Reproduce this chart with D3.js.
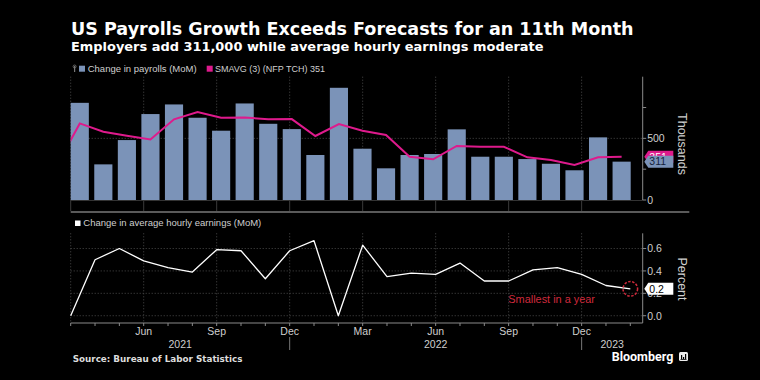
<!DOCTYPE html>
<html><head><meta charset="utf-8">
<script src="https://cdn.jsdelivr.net/npm/d3@7/dist/d3.min.js"></script>
<style>html,body{margin:0;padding:0;background:#000;}svg{display:block;}</style>
</head><body>
<svg id="c" width="760" height="380"></svg>
<script>
// ---- data ----
const months = ["2021-03","2021-04","2021-05","2021-06","2021-07","2021-08","2021-09","2021-10","2021-11","2021-12",
  "2022-01","2022-02","2022-03","2022-04","2022-05","2022-06","2022-07","2022-08","2022-09","2022-10","2022-11","2022-12",
  "2023-01","2023-02"];
const payrolls = [788,289,486,697,775,667,562,783,618,575,365,910,416,257,365,373,573,351,351,332,294,241,508,311];
const smaMonths = ["2021-02", ...months];
const smavg = [270,621,554,521,491,654,713,667,670,654,656,519,616,562,527,351,330,438,432,432,346,324,284,346,351];
const earnings = [0.0,0.50,0.60,0.49,0.43,0.39,0.59,0.58,0.33,0.58,0.67,0.0,0.63,0.35,0.38,0.37,0.47,0.31,0.31,0.41,0.43,0.37,0.27,0.24];
const topTicks = [0,250,500,750];
const topTickLabels = [0,500];
const botTicks = [0,0.2,0.4,0.6];
const years = ["2021","2022","2023"];
const title = "US Payrolls Growth Exceeds Forecasts for an 11th Month";
const subtitle = "Employers add 311,000 while average hourly earnings moderate";
const legendTop = ["Change in payrolls (MoM)","SMAVG (3) (NFP TCH) 351"];
const legendBot = "Change in average hourly earnings (MoM)";
const lastPayroll = 311, lastSma = 351, lastEarn = 0.2;

// ---- setup ----
const svg = d3.select("#c");
svg.append("rect").attr("width",760).attr("height",380).attr("fill","#000");
const parse = d3.timeParse("%Y-%m");
const fmtMon = d3.timeFormat("%b");
const BAR = "#7b93b8", PINK = "#de1a8c", RED = "#cf2a3c", GRID = "#4a4a4a", AX = "#8a8a8a", TXT = "#cfcfcf";
const FONT = "'Liberation Sans', Arial, sans-serif";
const HFONT = "'DejaVu Sans', 'Liberation Sans', sans-serif";

function fit(sel, target){
  const w = sel.node().getComputedTextLength();
  const fs = parseFloat(sel.attr("font-size"));
  if (w > 0) sel.attr("font-size", (fs*target/w).toFixed(2));
  return sel;
}

const L = 70.7, R = 642.7;
// scales
const pad = 0.23;
const stepB = (630.7 - L) / (months.length - pad);
const xBand = d3.scaleBand().domain(smaMonths).range([L - stepB, 630.7]).paddingInner(pad).paddingOuter(0);
const xPt = d3.scalePoint().domain(months).range([L, 630.3]);
const yTop = d3.scaleLinear().domain([0,1000]).range([200,76.7]);
const yBot = d3.scaleLinear().domain([-0.065,0.736]).range([323,233.3]);
const quarters = months.filter(m => [3,6,9,12].includes(+m.slice(5)));

// ---- titles ----
fit(svg.append("text").attr("x",71).attr("y",35.3).attr("fill","#fff").attr("font-family",HFONT)
  .attr("font-weight","bold").attr("font-size",17).text(title), 563);
fit(svg.append("text").attr("x",71).attr("y",50.7).attr("fill","#fff").attr("font-family",HFONT)
  .attr("font-weight","bold").attr("font-size",12).text(subtitle), 473);

// legend top
svg.append("rect").attr("x",74).attr("y",66).attr("width",1.2).attr("height",6).attr("fill","#777");
svg.append("circle").attr("cx",74.6).attr("cy",66.5).attr("r",1.5).attr("fill","none").attr("stroke","#777").attr("stroke-width",0.8);
svg.append("rect").attr("x",79).attr("y",65.7).attr("width",6).attr("height",6).attr("fill",BAR);
fit(svg.append("text").attr("x",87.7).attr("y",71.7).attr("fill",TXT).attr("font-family",FONT).attr("font-size",9.5).text(legendTop[0]),109);
svg.append("rect").attr("x",206.7).attr("y",65.7).attr("width",6).attr("height",6).attr("fill",PINK);
fit(svg.append("text").attr("x",215).attr("y",71.7).attr("fill",TXT).attr("font-family",FONT).attr("font-size",9.5).text(legendTop[1]),110);

// ---- top panel ----
const gTop = svg.append("g");
gTop.append("line").attr("x1",L).attr("x2",R).attr("y1",yTop(500)).attr("y2",yTop(500))
  .attr("stroke",GRID).attr("stroke-dasharray","1,2");
gTop.selectAll(".vg").data(quarters).join("line")
  .attr("x1",d=>xPt(d)).attr("x2",d=>xPt(d)).attr("y1",76.7).attr("y2",200)
  .attr("stroke",GRID).attr("stroke-dasharray","1,2");
gTop.selectAll(".vt").data(quarters).join("line")
  .attr("x1",d=>xPt(d)).attr("x2",d=>xPt(d)).attr("y1",200).attr("y2",211)
  .attr("stroke","#3a3a3a");
gTop.append("line").attr("x1",L).attr("x2",R).attr("y1",200.5).attr("y2",200.5).attr("stroke","#333");
gTop.selectAll(".bar").data(months).join("rect")
  .attr("x",d=>xBand(d)).attr("width",xBand.bandwidth())
  .attr("y",(d,i)=>yTop(payrolls[i])).attr("height",(d,i)=>yTop(0)-yTop(payrolls[i]))
  .attr("fill",BAR);
svg.append("clipPath").attr("id","clipTop").append("rect").attr("x",L).attr("y",60).attr("width",R-L).attr("height",145);
gTop.append("path").attr("clip-path","url(#clipTop)")
  .attr("d", d3.line().x((d,i)=>xBand(smaMonths[i])+xBand.bandwidth()/2).y(d=>yTop(d))(smavg))
  .attr("fill","none").attr("stroke",PINK).attr("stroke-width",2);
gTop.append("line").attr("x1",R).attr("x2",R).attr("y1",76.7).attr("y2",200).attr("stroke",AX);
gTop.selectAll(".tt").data(topTicks).join("line")
  .attr("x1",R).attr("x2",R+3.5).attr("y1",d=>yTop(d)).attr("y2",d=>yTop(d)).attr("stroke",AX);
gTop.selectAll(".tl").data(topTickLabels).join("text")
  .attr("x",R+4.5).attr("y",d=>yTop(d)).attr("dy","0.36em").attr("fill",TXT)
  .attr("font-family",FONT).attr("font-size",10.5).text(d=>d);
function tag(g, yv, color, textColor, label){
  const yy = yv, x0 = R+1.6, x1 = 673.3, h = 12;
  g.append("path").attr("d",`M${x0},${yy} L${x0+4},${yy-h/2} L${x1},${yy-h/2} L${x1},${yy+h/2} L${x0+4},${yy+h/2} Z`).attr("fill",color);
  g.append("text").attr("x",x0+5).attr("y",yy).attr("dy","0.36em").attr("fill",textColor)
    .attr("font-family",FONT).attr("font-size",10.5).text(label);
}
tag(gTop, yTop(lastSma), PINK, "#fff", lastSma);
tag(gTop, yTop(lastPayroll), BAR, "#14223a", lastPayroll);
gTop.append("text").attr("transform",`translate(678,144) rotate(90)`).attr("text-anchor","middle")
  .attr("fill",TXT).attr("font-family",FONT).attr("font-size",12.5).text("Thousands");

svg.append("line").attr("x1",L).attr("x2",689.3).attr("y1",212).attr("y2",212).attr("stroke","#5a5a5a").attr("stroke-width",2);

// ---- bottom panel ----
const gBot = svg.append("g");
gBot.append("rect").attr("x",75).attr("y",220.5).attr("width",5.5).attr("height",5.5).attr("fill","#fff");
fit(gBot.append("text").attr("x",83.3).attr("y",226).attr("fill",TXT).attr("font-family",FONT).attr("font-size",9.5).text(legendBot),178);

gBot.selectAll(".hg").data(botTicks).join("line")
  .attr("x1",L).attr("x2",R).attr("y1",d=>yBot(d)).attr("y2",d=>yBot(d))
  .attr("stroke",GRID).attr("stroke-dasharray","1,2");
gBot.selectAll(".vg").data(quarters).join("line")
  .attr("x1",d=>xPt(d)).attr("x2",d=>xPt(d)).attr("y1",233.3).attr("y2",323)
  .attr("stroke",GRID).attr("stroke-dasharray","1,2");
gBot.append("line").attr("x1",L).attr("x2",R).attr("y1",323).attr("y2",323).attr("stroke",AX);
gBot.append("line").attr("x1",R).attr("x2",R).attr("y1",233.3).attr("y2",323).attr("stroke",AX);
gBot.selectAll(".mt").data(months).join("line")
  .attr("x1",d=>xPt(d)).attr("x2",d=>xPt(d)).attr("y1",323).attr("y2",326).attr("stroke",AX);
gBot.selectAll(".yt").data(botTicks).join("line")
  .attr("x1",R).attr("x2",R+3.5).attr("y1",d=>yBot(d)).attr("y2",d=>yBot(d)).attr("stroke",AX);
gBot.selectAll(".yl").data(botTicks).join("text")
  .attr("x",R+4.5).attr("y",d=>yBot(d)).attr("dy","0.36em").attr("fill",TXT)
  .attr("font-family",FONT).attr("font-size",10.5).text(d=>d3.format(".1f")(d));
const labeled = quarters.filter(m => m !== months[0]);
gBot.selectAll(".ml").data(labeled).join("text")
  .attr("x",d=>xPt(d)).attr("y",335).attr("text-anchor","middle").attr("fill",TXT)
  .attr("font-family",FONT).attr("font-size",10.5).text(d=>fmtMon(parse(d)));
const decs = months.filter(m => m.endsWith("-12"));
gBot.selectAll(".ys").data(decs).join("line")
  .attr("x1",d=>xPt(d)).attr("x2",d=>xPt(d)).attr("y1",337).attr("y2",350).attr("stroke","#777");
const yearBounds = [[L, xPt(decs[0])],[xPt(decs[0]), xPt(decs[1])],[xPt(decs[1]), R]];
gBot.selectAll(".yl2").data(years).join("text")
  .attr("x",(d,i)=>(yearBounds[i][0]+yearBounds[i][1])/2).attr("y",347.7).attr("text-anchor","middle")
  .attr("fill",TXT).attr("font-family",FONT).attr("font-size",10.5).text(d=>d);
gBot.append("path")
  .attr("d", d3.line().x((d,i)=>xPt(months[i])).y(d=>yBot(d))(earnings))
  .attr("fill","none").attr("stroke","#fff").attr("stroke-width",1.3).attr("stroke-linejoin","round");
const lastM = months[months.length-1];
gBot.append("circle").attr("cx",xPt(lastM)).attr("cy",yBot(earnings[earnings.length-1])).attr("r",7.3)
  .attr("fill","none").attr("stroke",RED).attr("stroke-width",1.5).attr("stroke-dasharray","2.5,1.5");
fit(gBot.append("text").attr("x",508.3).attr("y",303.3).attr("fill",RED).attr("font-family",FONT).attr("font-size",11).text("Smallest in a year"),86.7);
tag(gBot, yBot(earnings[earnings.length-1]), "#fff", "#000", d3.format(".1f")(lastEarn));
gBot.append("text").attr("transform",`translate(678,279) rotate(90)`).attr("text-anchor","middle")
  .attr("fill",TXT).attr("font-family",FONT).attr("font-size",12.5).text("Percent");

// footer
fit(svg.append("text").attr("x",72.7).attr("y",361.7).attr("fill","#ddd").attr("font-family",HFONT)
  .attr("font-weight","bold").attr("font-size",10).text("Source: Bureau of Labor Statistics"),170);
fit(svg.append("text").attr("x",611.7).attr("y",360.7).attr("fill","#fff").attr("font-family","Roboto, 'Liberation Sans', sans-serif")
  .attr("font-weight","bold").attr("font-size",12).text("Bloomberg"),61.6);
const ic = svg.append("g").attr("transform","translate(679,352)");
ic.append("rect").attr("width",9).attr("height",9).attr("rx",1.5).attr("fill","#eee");
[[2,4],[4,2],[6,5]].forEach(([x,h])=>ic.append("rect").attr("x",x).attr("y",7-h).attr("width",1.2).attr("height",h).attr("fill","#000"));
ic.append("rect").attr("x",1.5).attr("y",7).attr("width",6).attr("height",0.8).attr("fill","#000");
</script>
</body></html>
